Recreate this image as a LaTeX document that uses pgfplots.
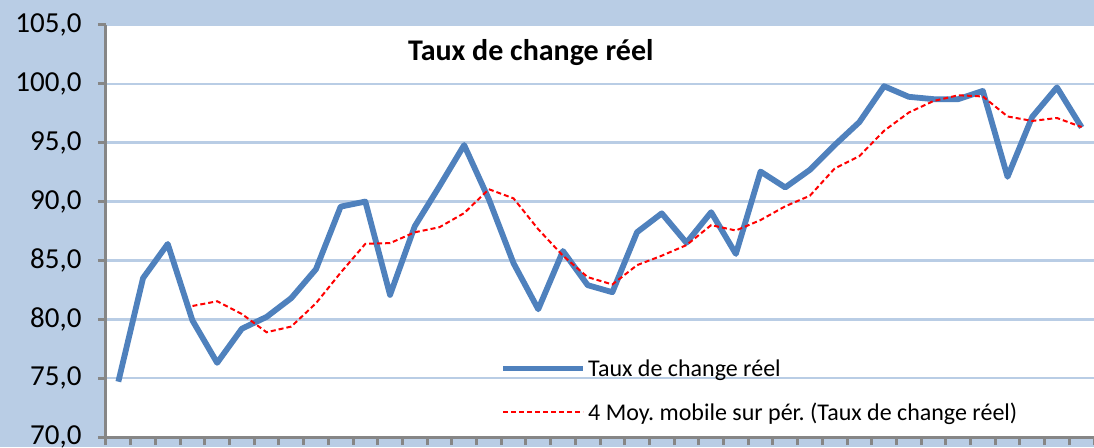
\documentclass[border=0pt]{standalone}
\usepackage{pgfplots}
\pgfplotsset{compat=1.18}
\usepackage{fontspec}
\setmainfont{Carlito}
\frenchspacing
\definecolor{bgblue}{HTML}{B9CDE5}
\definecolor{lineblue}{HTML}{4F81BD}
\definecolor{axgray}{HTML}{868686}
\begin{document}
\frenchspacing
\begin{tikzpicture}
\fill[bgblue] (-106pt,-10pt) rectangle (988pt,437pt);
\begin{axis}[
 at={(0pt,0pt)}, anchor=south west,
 scale only axis, width=988pt, height=412pt,
 xmin=-0.5, xmax=39.5, ymin=70, ymax=105,
 xtick={-0.5,0.5,...,39.5}, xticklabels={},
 ytick={70,75,...,105},
 axis x line*=bottom, axis y line*=left,
 xtick pos=bottom, ytick pos=left,
 axis line style={axgray, line width=3pt, -},
 tick align=outside, major tick length=8pt,
 tick style={axgray, line width=3pt},
 ymajorgrids, grid style={bgblue, line width=2.7pt},
 axis background/.style={fill=white},
 yticklabel style={font=\fontsize{29}{31}\selectfont, black, xshift=-13pt,
   /pgf/number format/fixed, /pgf/number format/fixed zerofill,
   /pgf/number format/precision=1, /pgf/number format/use comma,
   /pgf/number format/assume math mode=true},
 legend style={at={(0.399,0.032)}, anchor=south west, draw=none, fill=none,
   font=\fontsize{24}{26}\selectfont, cells={anchor=west}, row sep=21pt, inner sep=0pt},
 legend image code/.code={\draw[#1] (0pt,0pt) -- (80pt,0pt);},
]
\addplot[lineblue, line width=5.8pt, line join=round] coordinates {
(0,74.7)(1,83.5)(2,86.4)(3,79.9)(4,76.3)(5,79.2)(6,80.2)(7,81.8)(8,84.25)(9,89.57)
(10,90.0)(11,82.07)(12,87.9)(13,91.3)(14,94.8)(15,90.2)(16,84.76)(17,80.85)(18,85.8)(19,82.9)
(20,82.3)(21,87.4)(22,89.0)(23,86.5)(24,89.1)(25,85.55)(26,92.55)(27,91.2)(28,92.7)(29,94.8)
(30,96.75)(31,99.8)(32,98.9)(33,98.7)(34,98.7)(35,99.4)(36,92.1)(37,97.2)(38,99.7)(39,96.3)
};
\addlegendentry{Taux de change réel}
\addplot[red, line width=2pt, dash pattern=on 5pt off 3pt] coordinates {
(3,81.13)(4,81.53)(5,80.45)(6,78.90)(7,79.38)(8,81.36)(9,83.96)(10,86.41)(11,86.47)(12,87.39)
(13,87.82)(14,89.02)(15,91.05)(16,90.27)(17,87.65)(18,85.40)(19,83.58)(20,82.96)(21,84.60)(22,85.40)
(23,86.30)(24,88.00)(25,87.54)(26,88.43)(27,89.60)(28,90.50)(29,92.81)(30,93.86)(31,96.01)(32,97.56)
(33,98.54)(34,99.03)(35,98.93)(36,97.23)(37,96.85)(38,97.10)(39,96.33)
};
\addlegendentry{4 Moy. mobile sur pér. (Taux de change réel)}
\node[font=\bfseries\fontsize{30}{32}\selectfont] at (rel axis cs:0.43,0.934) {Taux de change réel};
\end{axis}
\pgfresetboundingbox
\path[use as bounding box] (-106pt,-10pt) rectangle (988pt,437pt);
\end{tikzpicture}
\end{document}
